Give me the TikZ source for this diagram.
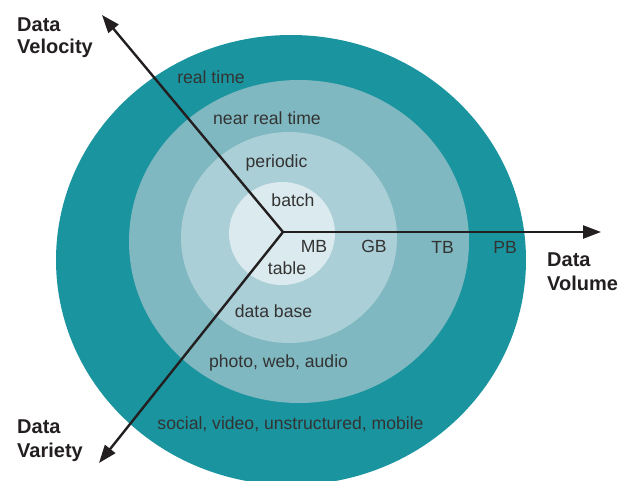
\documentclass[tikz,border=0pt]{standalone}
\usepackage{fontspec}
\setmainfont{Liberation Sans}
\usetikzlibrary{arrows.meta}
\definecolor{ringA}{HTML}{1A949E}
\definecolor{ringB}{HTML}{7FB8C0}
\definecolor{ringC}{HTML}{ABCFD7}
\definecolor{ringD}{HTML}{DBEAEE}
\definecolor{ink}{HTML}{231F20}
\definecolor{lbl}{HTML}{333333}
\begin{document}
\begin{tikzpicture}[x=1pt,y=-1pt,
  ringlabel/.style={inner sep=0pt, anchor=base, text=lbl, font=\fontsize{17.6}{20}\selectfont},
  axislabel/.style={inner sep=0pt, anchor=base west, text=ink, font=\fontsize{20}{24}\selectfont\bfseries},
  axisline/.style={draw=ink, line width=2.4pt, -{Triangle[length=18pt,width=13pt]}}]
\useasboundingbox (0,0) rectangle (635,480);
\clip (0,0) rectangle (635,480);
% rings
\fill[ringA] (291,260) ellipse [x radius=235, y radius=225];
\fill[ringB] (299,241.5) ellipse [x radius=170, y radius=161.5];
\fill[ringC] (289,237.5) ellipse [x radius=108, y radius=105.5];
\fill[ringD] (282,233.5) ellipse [x radius=53, y radius=51.5];
% ring labels
\node[ringlabel] (rt) at (211,83) {real time};
\node[ringlabel] (nrt) at (267,124) {near real time};
\node[ringlabel] (per) at (276.5,167) {periodic};
\node[ringlabel] (bat) at (293,206) {batch};
\node[ringlabel] (mb) at (314,252) {MB};
\node[ringlabel] (gb) at (374,252) {GB};
\node[ringlabel] (tb) at (442.5,253) {TB};
\node[ringlabel] (pb) at (505,253) {PB};
\node[ringlabel] (tab) at (287,274) {table};
\node[ringlabel] (db) at (273.5,317) {data base};
\node[ringlabel] (pwa) at (278.5,367) {photo, web, audio};
\node[ringlabel] (svu) at (290.5,429) {social, video, unstructured, mobile};
% axes
\coordinate (O) at (283,232);
\coordinate (vel) at (102,15);
\coordinate (vol) at (601,232);
\coordinate (var) at (99,463);
\draw[axisline] (O) -- (vel);
\draw[axisline] (O) -- (vol);
\draw[axisline] (O) -- (var);
% axis labels
\node[axislabel] (velA) at (17,31) {Data};
\node[axislabel] (velB) at (17,53) {Velocity};
\node[axislabel] (volA) at (547,266) {Data};
\node[axislabel] (volB) at (547,290) {Volume};
\node[axislabel] (varA) at (17,433) {Data};
\node[axislabel] (varB) at (17,457) {Variety};
\end{tikzpicture}
\end{document}
